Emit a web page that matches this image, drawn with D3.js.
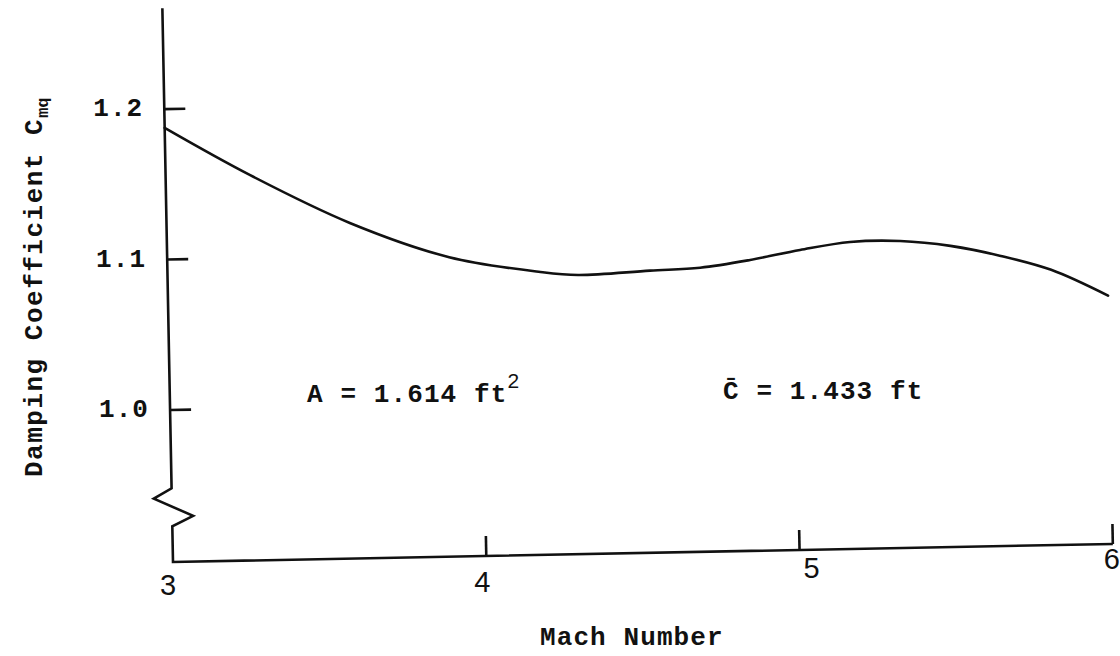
<!DOCTYPE html>
<html>
<head>
<meta charset="utf-8">
<script src="https://cdn.jsdelivr.net/npm/d3@7"></script>
<style>
  html, body { margin: 0; padding: 0; background: #fff; }
  svg { display: block; }
  .type { font-family: "Liberation Mono", "DejaVu Sans Mono", monospace; font-weight: bold; fill: #111; }
  .hand { font-family: "Liberation Sans", "DejaVu Sans", sans-serif; fill: #111; }
</style>
</head>
<body>
<svg id="chart" width="1120" height="656"></svg>
<script>
// Damping coefficient Cmq versus Mach number
const machNumbers = [3.0, 3.27, 3.585, 3.9, 4.19, 4.31, 4.54, 4.70, 4.86, 5.02, 5.18, 5.34, 5.50, 5.66, 5.82, 6.0];
const dampingCmq  = [1.1875, 1.155, 1.122, 1.098, 1.087, 1.0845, 1.0865, 1.0878, 1.0923, 1.0983, 1.1030, 1.1030, 1.0991, 1.0918, 1.0819, 1.064];

const xTickValues = [3, 4, 5, 6];
const xTickLabels = ["3", "4", "5", "6"];
const yTickValues = [1.0, 1.1, 1.2];
const yTickLabels = ["1.0", "1.1", "1.2"];

const yAxisTitle = "Damping Coefficient C";
const yAxisTitleSub = "mq";
const xAxisTitle = "Mach Number";
const areaNote = "A = 1.614 ft";
const areaNoteSup = "2";
const chordNote = "C\u0304 = 1.433 ft";

// ---- layout ----
const origin = { x: 173, y: 562 };   // corner where the axes meet
const tilt = -1.1;                    // the drawn frame sits slightly rotated
const yAxisTopValue = 1.267;
const breakValue = 0.948;             // where the broken y axis resumes

const x = d3.scaleLinear().domain([3, 6]).range([0, 940]);
const y = d3.scaleLinear().domain([1.0, 1.2]).range([-152, -453]);

const rad = tilt * Math.PI / 180;
function toScreen(u, w) {
  return [origin.x + u * Math.cos(rad) - w * Math.sin(rad),
          origin.y + u * Math.sin(rad) + w * Math.cos(rad)];
}

const svg = d3.select("#chart");
const frame = svg.append("g")
  .attr("transform", `translate(${origin.x},${origin.y}) rotate(${tilt})`);

const ink = "#111";
const stroke = 2.6;
const typeSize = 26;
const typeSpacing = 1.1;

// y axis with break symbol near the bottom, then the x axis
const yb = y(breakValue);
const axisPath = d3.path();
axisPath.moveTo(0, y(yAxisTopValue));
axisPath.lineTo(0, yb);
axisPath.lineTo(-18, yb + 10);
axisPath.lineTo(21, yb + 28);
axisPath.lineTo(0, yb + 38);
axisPath.lineTo(0, 0);
axisPath.lineTo(x(6), 0);
frame.append("path")
  .attr("d", axisPath.toString())
  .attr("fill", "none")
  .attr("stroke", ink)
  .attr("stroke-width", stroke)
  .attr("stroke-linejoin", "miter");

// y ticks point inward
frame.selectAll(".ytick").data(yTickValues).join("line")
  .attr("class", "ytick")
  .attr("x1", 0).attr("x2", 21)
  .attr("y1", d => y(d)).attr("y2", d => y(d))
  .attr("stroke", ink).attr("stroke-width", stroke);

// x ticks point upward (none at the origin)
frame.selectAll(".xtick").data(xTickValues.slice(1)).join("line")
  .attr("class", "xtick")
  .attr("x1", d => x(d)).attr("x2", d => x(d))
  .attr("y1", 0).attr("y2", -20)
  .attr("stroke", ink).attr("stroke-width", stroke);

// curve
const line = d3.line()
  .x(d => x(d[0]))
  .y(d => y(d[1]))
  .curve(d3.curveCatmullRom.alpha(0.5));
frame.append("path")
  .datum(machNumbers.map((m, i) => [m, dampingCmq[i]]))
  .attr("d", line)
  .attr("fill", "none")
  .attr("stroke", ink)
  .attr("stroke-width", stroke)
  .attr("stroke-linecap", "round")
  .attr("stroke-linejoin", "round");

// y tick labels (typed)
svg.selectAll(".ylab").data(yTickValues).join("text")
  .attr("class", "ylab type")
  .attr("x", d => toScreen(0, y(d))[0] - 21)
  .attr("y", d => toScreen(0, y(d))[1] + 7)
  .attr("text-anchor", "end")
  .attr("font-size", typeSize)
  .attr("letter-spacing", typeSpacing)
  .text((d, i) => yTickLabels[i]);

// x tick labels (hand lettered, sitting a little unevenly below the axis)
const labelNudge = [[-5, 23], [-4, 26], [12, 18], [-1, 15]];
svg.selectAll(".xlab").data(xTickValues).join("text")
  .attr("class", "xlab hand")
  .attr("x", (d, i) => toScreen(x(d), 0)[0] + labelNudge[i][0])
  .attr("y", (d, i) => toScreen(x(d), 0)[1] + labelNudge[i][1] + 10)
  .attr("text-anchor", "middle")
  .attr("font-size", 29)
  .text((d, i) => xTickLabels[i]);

// axis titles
svg.append("text")
  .attr("class", "type")
  .attr("transform", "translate(42,477) rotate(-90)")
  .attr("font-size", typeSize)
  .attr("letter-spacing", 1.5)
  .text(yAxisTitle)
  .append("tspan")
  .attr("font-size", 17)
  .attr("dy", 6)
  .attr("letter-spacing", 0)
  .text(yAxisTitleSub);

svg.append("text")
  .attr("class", "type")
  .attr("x", 540).attr("y", 645)
  .attr("font-size", typeSize)
  .attr("letter-spacing", typeSpacing)
  .text(xAxisTitle);

// reference quantities
const areaText = svg.append("text")
  .attr("class", "type")
  .attr("x", 307).attr("y", 402)
  .attr("font-size", typeSize)
  .attr("letter-spacing", typeSpacing)
  .text(areaNote);
areaText.append("tspan")
  .attr("class", "hand")
  .attr("font-weight", "normal")
  .attr("font-size", 21)
  .attr("dy", -14)
  .text(areaNoteSup);

svg.append("text")
  .attr("class", "type")
  .attr("x", 723).attr("y", 399)
  .attr("font-size", typeSize)
  .attr("letter-spacing", typeSpacing)
  .text(chordNote);
</script>
</body>
</html>
